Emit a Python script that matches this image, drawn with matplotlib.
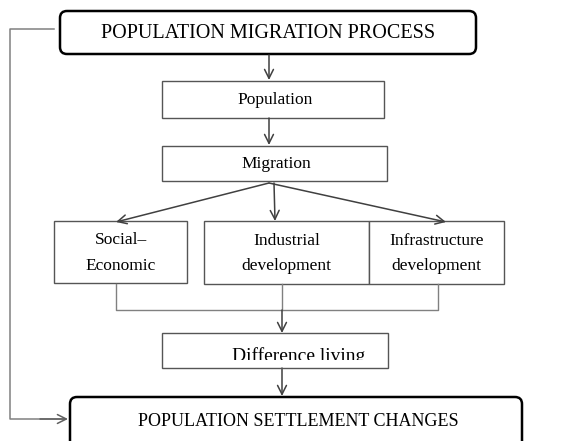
import matplotlib.pyplot as plt
from matplotlib.patches import FancyBboxPatch, Rectangle

# node labels
title_top = "POPULATION MIGRATION PROCESS"
title_bottom = "POPULATION SETTLEMENT CHANGES"
chain_labels = ["Population", "Migration"]
factor_labels = ["Social\u2013\nEconomic", "Industrial\ndevelopment", "Infrastructure\ndevelopment"]
result_label = "Difference living"

# layout (pixels, y down)
chain_boxes = [(162, 81, 222, 37), (162, 146, 225, 35)]
factor_boxes = [(54, 221, 133, 62), (204, 221, 165, 63), (369, 221, 135, 63)]
result_box = (162, 333, 226, 35)

fig = plt.figure(figsize=(5.72, 4.41), dpi=100)
ax = fig.add_axes([0, 0, 1, 1])
ax.set_xlim(0, 572)
ax.set_ylim(441, 0)
ax.axis("off")

font = "Liberation Serif"
box_col = "#555555"
arr_col = "#404040"


def arrow(x0, y0, x1, y1, col=arr_col):
    ax.annotate("", xy=(x1, y1), xytext=(x0, y0),
                arrowprops=dict(arrowstyle="->", color=col, lw=1.1,
                                mutation_scale=16, shrinkA=0, shrinkB=0))


# rounded title boxes
top = FancyBboxPatch((60, 11), 416, 43, boxstyle="round,pad=0,rounding_size=7",
                     fc="white", ec="black", lw=1.8)
ax.add_patch(top)
ax.text(268, 33, title_top, ha="center", va="center", family=font, fontsize=14.5)

bot = FancyBboxPatch((70, 397), 452, 60, boxstyle="round,pad=0,rounding_size=7",
                     fc="white", ec="black", lw=1.8, clip_on=False)
ax.add_patch(bot)
ax.text(298, 422, title_bottom, ha="center", va="center", family=font, fontsize=13)

# feedback line on the left
ax.plot([54, 10, 10, 64], [29, 29, 419, 419], color="#808080", lw=1.1)
arrow(40, 419, 68, 419, col="#606060")

# chain boxes
for (x, y, w, h), lab in zip(chain_boxes, chain_labels):
    ax.add_patch(Rectangle((x, y), w, h, fc="white", ec=box_col, lw=1.0))
    ax.text(x + w / 2 + 2, y + h / 2, lab, ha="center", va="center", family=font, fontsize=12.5)

arrow(269, 55, 269, 80)
arrow(269, 118, 269, 145)

# branches
arrow(269, 183, 116, 222)
arrow(274, 183, 275, 221)
arrow(269, 183, 446, 222)

for (x, y, w, h), lab in zip(factor_boxes, factor_labels):
    ax.add_patch(Rectangle((x, y), w, h, fc="white", ec=box_col, lw=1.0))
    ax.text(x + w / 2, y + h / 2 + 1, lab, ha="center", va="center", family=font,
            fontsize=12.5, linespacing=1.75)

# merge lines
ax.plot([116, 116, 438, 438], [284, 310, 310, 284], color="#808080", lw=1.0)
ax.plot([282, 282], [284, 310], color="#808080", lw=1.0)
arrow(282, 310, 282, 333)

# last box, text cut off at the bottom as in the source
x, y, w, h = result_box
ax.add_patch(Rectangle((x, y), w, h, fc="white", ec="none", zorder=1))
ax.text(x + w / 2 + 24, 361, result_label, ha="center", va="baseline", family=font,
        fontsize=14, zorder=2)
ax.add_patch(Rectangle((x + 1, 359.5), w - 2, h - 26.5, fc="white", ec="none", zorder=3))
ax.add_patch(Rectangle((x, y), w, h, fill=False, ec=box_col, lw=1.0, zorder=4))

arrow(282, 368, 282, 396)

fig.savefig("out.png", dpi=100)
